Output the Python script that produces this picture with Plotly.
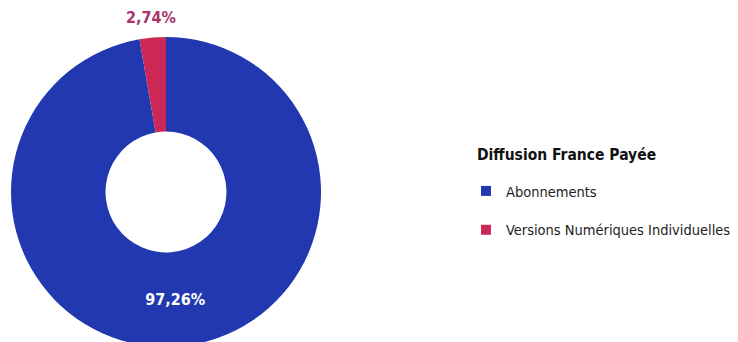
import math
import plotly.graph_objects as go

labels = ["Abonnements", "Versions Numériques Individuelles"]
values = [97.26, 2.74]
colors = ["#2138B0", "#CC2856"]
text_colors = ["#FFFFFF", "#A8336A"]
legend_title = "Diffusion France Payée"

FONT = "DejaVu Sans Condensed, Liberation Sans Narrow, Arial Narrow, sans-serif"
W, H = 738, 342
OFF = 8  # page body margin offset

# on-screen geometry of the ring
cx, cy, r = 166, 192, 155
fx, fy = cx - OFF, cy - OFF

fig = go.Figure()
fig.add_trace(go.Pie(
    labels=labels,
    values=values,
    hole=0.39,
    sort=False,
    direction="clockwise",
    rotation=0,
    marker=dict(colors=colors, line=dict(width=0)),
    texttemplate=["%{percent:.2%}", ""],
    textposition=["inside", "none"],
    insidetextfont=dict(color=text_colors[0], size=16, family=FONT, weight="bold"),
    insidetextorientation="horizontal",
    domain=dict(x=[(fx - r) / W, (fx + r) / W],
                y=[(H - fy - r) / H, (H - fy + r) / H]),
    showlegend=False,
))

# outside label of the small slice, placed along its mid-angle
total = sum(values)
start = sum(values[:1]) / total
mid = (start + values[1] / total / 2) * 2 * math.pi  # clockwise from top
d = r + 20
lx = fx + d * math.sin(mid)
ly = fy - d * math.cos(mid)
pct_text = f"{values[1] / total * 100:.2f}%".replace(".", ",")
fig.add_annotation(
    text="<b>" + pct_text + "</b>",
    xref="paper", yref="paper", x=lx / W, y=1 - ly / H,
    xanchor="center", yanchor="middle", showarrow=False,
    font=dict(family=FONT, size=16, color=text_colors[1]),
)

for lab, col in zip(labels, colors):
    fig.add_trace(go.Scatter(
        x=[None], y=[None], mode="markers", name=lab,
        marker=dict(symbol="square", size=10, color=col, line=dict(width=0)),
        legendgroup=lab,
    ))

fig.add_annotation(
    text="<b>" + legend_title + "</b>",
    xref="paper", yref="paper", x=(475 - OFF) / W, y=1 - (155 - OFF) / H,
    xanchor="left", yanchor="middle", showarrow=False,
    font=dict(family=FONT, size=15.5, color="#111111"),
)

fig.update_layout(
    width=W, height=H,
    margin=dict(l=0, r=0, t=0, b=0, autoexpand=False),
    paper_bgcolor="white", plot_bgcolor="white",
    separators=", ",
    font=dict(family=FONT, size=14.5, color="#222222"),
    xaxis=dict(visible=False), yaxis=dict(visible=False),
    showlegend=True,
    legend=dict(
        x=(466 - OFF) / W, y=1 - (175 - OFF) / H, xanchor="left", yanchor="top",
        font=dict(family=FONT, size=14.5, color="#222222"),
        tracegroupgap=17,
        traceorder="grouped",
        bgcolor="rgba(0,0,0,0)",
    ),
)

fig.write_html("out.html")
